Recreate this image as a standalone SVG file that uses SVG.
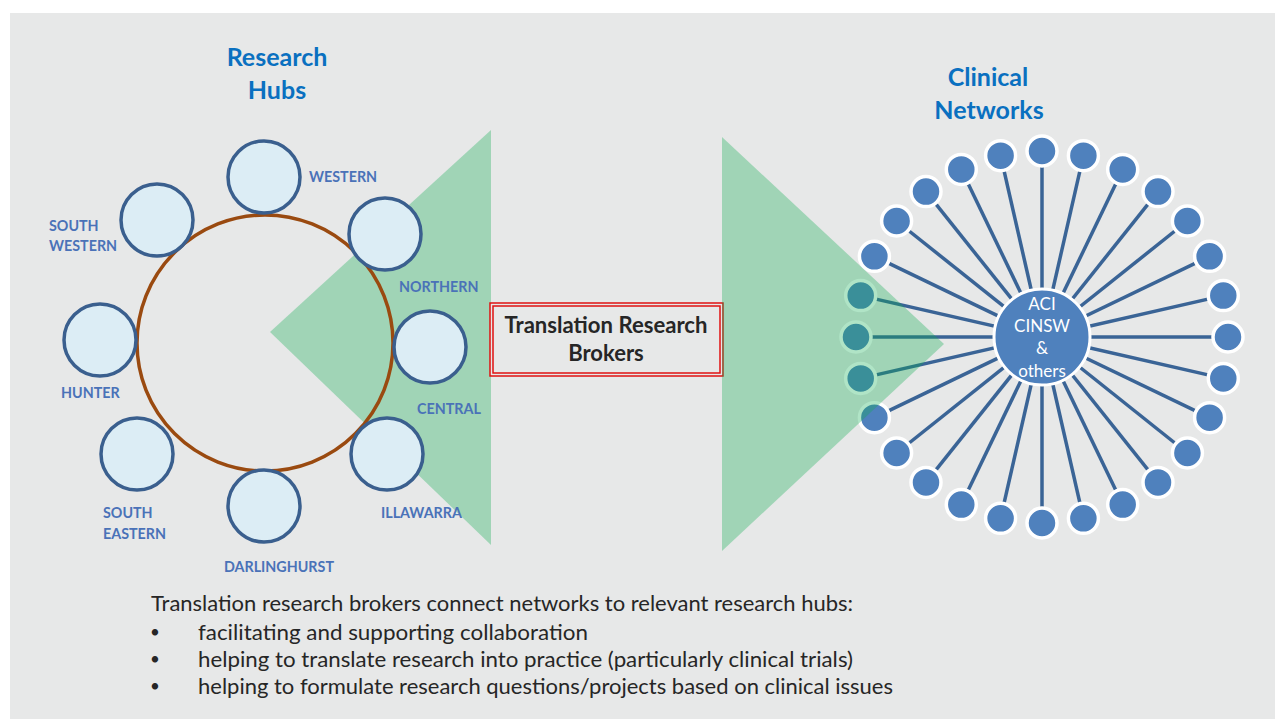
<svg xmlns="http://www.w3.org/2000/svg" width="1275" height="719" viewBox="0 0 1275 719">
<style>
.hub{fill:#DCEDF5;stroke:#3A5F8E;stroke-width:3.5}
.lbl{font-family:Lato,"Open Sans",sans-serif;font-weight:bold;font-size:14.3px;fill:#4A72B8}
.title{font-family:Lato,"Open Sans",sans-serif;font-weight:bold;font-size:25px;fill:#0A70C0;text-anchor:middle}
.tri{fill:#0FAE53;fill-opacity:0.33}
.spoke{stroke:#3A6496;stroke-width:3.5}
.node{fill:#4F81BD;stroke:#FFFFFF;stroke-width:3.5}
.body{font-family:Lato,"Open Sans",sans-serif;font-size:22px;fill:#262626}
.bul{font-family:Lato,"Open Sans",sans-serif;font-size:17px;fill:#262626}
.hubtxt{font-family:Lato,"Open Sans",sans-serif;font-size:17px;fill:#FFFFFF;text-anchor:middle}
.brk{font-family:Lato,"Open Sans",sans-serif;font-weight:bold;font-size:22px;fill:#262626;text-anchor:middle}
</style>
<rect x="0" y="0" width="1275" height="719" fill="#FFFFFF"/>
<rect x="10" y="13" width="1265" height="706" fill="#E7E8E8"/>

<text class="title" x="277" y="66">Research</text>
<text class="title" x="277" y="99">Hubs</text>
<text class="title" x="988" y="86">Clinical</text>
<text class="title" x="989" y="119">Networks</text>

<polygon id="left-triangle" class="tri" points="270,332 491,130 491,545"/>

<g id="research-ring">
<circle cx="265" cy="343" r="128" fill="none" stroke="#9A4A10" stroke-width="3.5"/>
</g>
<g id="hub-western"><circle class="hub" cx="264" cy="177" r="36"/><text class="lbl" x="309" y="182">WESTERN</text></g>
<g id="hub-south-western"><circle class="hub" cx="157" cy="220" r="36"/><text class="lbl" x="49" y="231">SOUTH</text><text class="lbl" x="49" y="251">WESTERN</text></g>
<g id="hub-northern"><circle class="hub" cx="385" cy="234" r="36"/><text class="lbl" x="399" y="292">NORTHERN</text></g>
<g id="hub-hunter"><circle class="hub" cx="100" cy="340" r="36"/><text class="lbl" x="61" y="398">HUNTER</text></g>
<g id="hub-central"><circle class="hub" cx="430" cy="347" r="36"/><text class="lbl" x="417" y="414">CENTRAL</text></g>
<g id="hub-south-eastern"><circle class="hub" cx="137" cy="454" r="36"/><text class="lbl" x="103" y="518">SOUTH</text><text class="lbl" x="103" y="539">EASTERN</text></g>
<g id="hub-illawarra"><circle class="hub" cx="387" cy="454" r="36"/><text class="lbl" x="381" y="518">ILLAWARRA</text></g>
<g id="hub-darlinghurst"><circle class="hub" cx="264" cy="506" r="36"/><text class="lbl" x="224" y="572">DARLINGHURST</text></g>

<g id="brokers">
<rect x="490" y="303" width="233" height="73" fill="#E7E8E8" stroke="#E01010" stroke-width="1.5"/>
<rect x="493" y="306" width="227" height="67" fill="none" stroke="#E01010" stroke-width="1.5"/>
<text class="brk" x="606" y="333" textLength="203" lengthAdjust="spacingAndGlyphs">Translation Research</text>
<text class="brk" x="606" y="361">Brokers</text>
</g>

<g id="connectors">
<line class="spoke" x1="1042" y1="337" x2="1228.0" y2="337.0"/>
<line class="spoke" x1="1042" y1="337" x2="1223.3" y2="295.6"/>
<line class="spoke" x1="1042" y1="337" x2="1209.6" y2="256.3"/>
<line class="spoke" x1="1042" y1="337" x2="1187.4" y2="221.0"/>
<line class="spoke" x1="1042" y1="337" x2="1158.0" y2="191.6"/>
<line class="spoke" x1="1042" y1="337" x2="1122.7" y2="169.4"/>
<line class="spoke" x1="1042" y1="337" x2="1083.4" y2="155.7"/>
<line class="spoke" x1="1042" y1="337" x2="1042.0" y2="151.0"/>
<line class="spoke" x1="1042" y1="337" x2="1000.6" y2="155.7"/>
<line class="spoke" x1="1042" y1="337" x2="961.3" y2="169.4"/>
<line class="spoke" x1="1042" y1="337" x2="926.0" y2="191.6"/>
<line class="spoke" x1="1042" y1="337" x2="896.6" y2="221.0"/>
<line class="spoke" x1="1042" y1="337" x2="874.4" y2="256.3"/>
<line class="spoke" x1="1042" y1="337" x2="860.7" y2="295.6"/>
<line class="spoke" x1="1042" y1="337" x2="856.0" y2="337.0"/>
<line class="spoke" x1="1042" y1="337" x2="860.7" y2="378.4"/>
<line class="spoke" x1="1042" y1="337" x2="874.4" y2="417.7"/>
<line class="spoke" x1="1042" y1="337" x2="896.6" y2="453.0"/>
<line class="spoke" x1="1042" y1="337" x2="926.0" y2="482.4"/>
<line class="spoke" x1="1042" y1="337" x2="961.3" y2="504.6"/>
<line class="spoke" x1="1042" y1="337" x2="1000.6" y2="518.3"/>
<line class="spoke" x1="1042" y1="337" x2="1042.0" y2="523.0"/>
<line class="spoke" x1="1042" y1="337" x2="1083.4" y2="518.3"/>
<line class="spoke" x1="1042" y1="337" x2="1122.7" y2="504.6"/>
<line class="spoke" x1="1042" y1="337" x2="1158.0" y2="482.4"/>
<line class="spoke" x1="1042" y1="337" x2="1187.4" y2="453.0"/>
<line class="spoke" x1="1042" y1="337" x2="1209.6" y2="417.7"/>
<line class="spoke" x1="1042" y1="337" x2="1223.3" y2="378.4"/>
</g>

<g id="network-nodes">
<circle class="node" cx="1228.0" cy="337.0" r="15"/>
<circle class="node" cx="1223.3" cy="295.6" r="15"/>
<circle class="node" cx="1209.6" cy="256.3" r="15"/>
<circle class="node" cx="1187.4" cy="221.0" r="15"/>
<circle class="node" cx="1158.0" cy="191.6" r="15"/>
<circle class="node" cx="1122.7" cy="169.4" r="15"/>
<circle class="node" cx="1083.4" cy="155.7" r="15"/>
<circle class="node" cx="1042.0" cy="151.0" r="15"/>
<circle class="node" cx="1000.6" cy="155.7" r="15"/>
<circle class="node" cx="961.3" cy="169.4" r="15"/>
<circle class="node" cx="926.0" cy="191.6" r="15"/>
<circle class="node" cx="896.6" cy="221.0" r="15"/>
<circle class="node" cx="874.4" cy="256.3" r="15"/>
<circle class="node" cx="860.7" cy="295.6" r="15"/>
<circle class="node" cx="856.0" cy="337.0" r="15"/>
<circle class="node" cx="860.7" cy="378.4" r="15"/>
<circle class="node" cx="874.4" cy="417.7" r="15"/>
<circle class="node" cx="896.6" cy="453.0" r="15"/>
<circle class="node" cx="926.0" cy="482.4" r="15"/>
<circle class="node" cx="961.3" cy="504.6" r="15"/>
<circle class="node" cx="1000.6" cy="518.3" r="15"/>
<circle class="node" cx="1042.0" cy="523.0" r="15"/>
<circle class="node" cx="1083.4" cy="518.3" r="15"/>
<circle class="node" cx="1122.7" cy="504.6" r="15"/>
<circle class="node" cx="1158.0" cy="482.4" r="15"/>
<circle class="node" cx="1187.4" cy="453.0" r="15"/>
<circle class="node" cx="1209.6" cy="417.7" r="15"/>
<circle class="node" cx="1223.3" cy="378.4" r="15"/>
</g>

<g id="hub-aci">
<circle cx="1042" cy="337" r="48" fill="#4F81BD" stroke="#FFFFFF" stroke-width="3"/>
<text class="hubtxt" x="1042" y="310">ACI</text>
<text class="hubtxt" x="1042" y="332">CINSW</text>
<text class="hubtxt" x="1042" y="354">&amp;</text>
<text class="hubtxt" x="1042" y="377">others</text>
</g>

<polygon id="right-triangle" class="tri" points="722,137 722,551 944,344"/>

<g id="notes">
<text class="body" x="151" y="611" textLength="702" lengthAdjust="spacingAndGlyphs">Translation research brokers connect networks to relevant research hubs:</text>
<text class="bul" x="150" y="638">•</text><text class="body" x="198" y="640" textLength="390" lengthAdjust="spacingAndGlyphs">facilitating  and supporting collaboration</text>
<text class="bul" x="150" y="665">•</text><text class="body" x="198" y="667" textLength="655" lengthAdjust="spacingAndGlyphs">helping to translate research into practice (particularly clinical trials)</text>
<text class="bul" x="150" y="692">•</text><text class="body" x="198" y="694" textLength="695" lengthAdjust="spacingAndGlyphs">helping to formulate research questions/projects based on clinical issues</text>
</g>
</svg>
